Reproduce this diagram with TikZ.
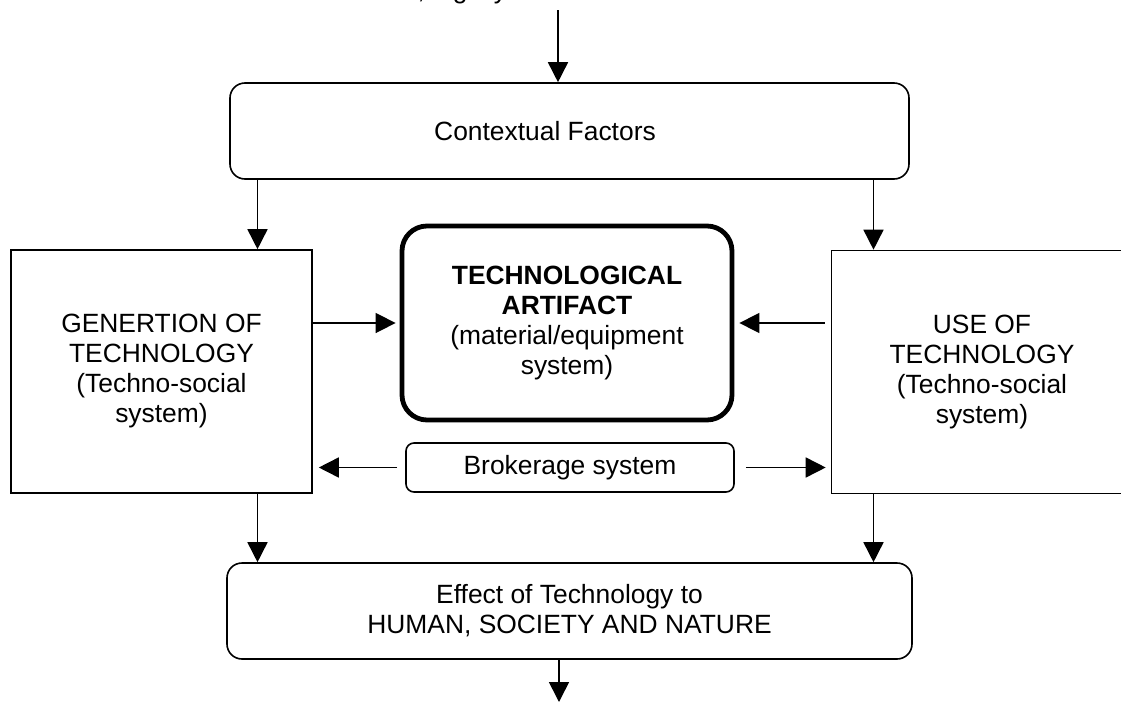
\documentclass[tikz,border=0pt]{standalone}
\usepackage{fontspec}
\setmainfont{Liberation Sans}
\usetikzlibrary{arrows.meta}

\begin{document}
\begin{tikzpicture}[x=0.5pt,y=-0.5pt,line width=0.8pt,
    >={Triangle[length=10pt,width=10pt]},
    every node/.style={font=\fontsize{13.2}{15}\selectfont,align=center,inner sep=0pt},
    roundbox/.style={draw,rounded corners=7.5pt},
    sidebox/.style={draw,minimum width=150.5pt,minimum height=121.5pt}]
    \useasboundingbox (0,0) rectangle (1121,702);
    \node[anchor=base east] (src) at (508,-2) {Political, legally};
    \node[roundbox,minimum width=339.5pt,minimum height=48pt] (ctx) at (569.5,131) {Contextual Factors\hspace*{24.5pt}};
    \node[sidebox] (gen) at (161.5,371.5) {GENERTION OF\\TECHNOLOGY\\(Techno-social\\system)};
    \node[sidebox] (use) at (982,372) {USE OF\\TECHNOLOGY\\(Techno-social\\system)};
    \node[draw,line width=2.4pt,rounded corners=12.5pt,minimum width=165pt,minimum height=97pt] (art) at (567,323)
      {\textbf{TECHNOLOGICAL}\\\textbf{ARTIFACT}\\(material/equipment\\system)};
    \node[draw,rounded corners=4pt,minimum width=164pt,minimum height=24.5pt] (brk) at (570,467.5) {Brokerage system};
    \node[roundbox,minimum width=342.5pt,minimum height=48pt] (eff) at (569.5,611) {Effect of Technology to\\HUMAN, SOCIETY AND NATURE};
    \coordinate (mx) at (558,10);
    \coordinate (bx) at (559,702);
    \coordinate (lx) at (257.5,0);
    \coordinate (rx) at (873.5,0);
    \coordinate (ay) at (0,323);
    \draw [->] (mx) to (mx |- ctx.north);
    \draw [->] (lx |- ctx.south) to (lx |- gen.north);
    \draw [->] (rx |- ctx.south) to (rx |- use.north);
    \draw [->,shorten >=2pt] (gen.east |- ay) to (art.west |- ay);
    \draw [->,shorten <=3pt,shorten >=2.5pt] (use.west |- ay) to (art.east |- ay);
    \draw [->,shorten <=4pt,shorten >=3pt] (brk.west) to (gen.east |- brk.west);
    \draw [->,shorten <=5.5pt,shorten >=2.5pt] (brk.east) to (use.west |- brk.east);
    \draw [->] (lx |- gen.south) to (lx |- eff.north);
    \draw [->] (rx |- use.south) to (rx |- eff.north);
    \draw [->] (bx |- eff.south) to (bx);
\end{tikzpicture}
\end{document}
